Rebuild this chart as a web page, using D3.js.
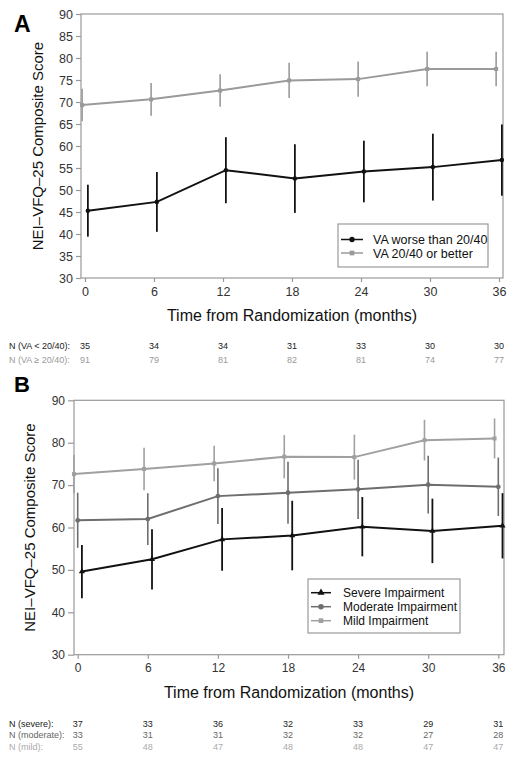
<!DOCTYPE html>
<html>
<head>
<meta charset="utf-8">
<script src="https://cdn.jsdelivr.net/npm/d3@7"></script>
<style>
  html, body { margin: 0; padding: 0; background: #fff; }
  svg { display: block; font-family: "Liberation Sans", Arial, Helvetica, sans-serif; }
</style>
</head>
<body>
<svg id="chart" width="516" height="760"></svg>
<script>
// ---------- DATA ----------
const months = [0, 6, 12, 18, 24, 30, 36];
const yTicksA = [30, 35, 40, 45, 50, 55, 60, 65, 70, 75, 80, 85, 90];
const yTicksB = [30, 40, 50, 60, 70, 80, 90];

// Panel A
const vaWorse    = [45.3, 47.3, 54.5, 52.6, 54.2, 55.2, 56.8];
const vaWorseErr = [5.9, 6.8, 7.5, 7.8, 7.0, 7.6, 8.1];
const vaBetter    = [69.3, 70.6, 72.6, 74.9, 75.2, 77.5, 77.5];
const vaBetterErr = [3.7, 3.7, 3.7, 4.0, 4.0, 3.9, 3.9];
const nVaWorse  = [35, 34, 34, 31, 33, 30, 30];
const nVaBetter = [91, 79, 81, 82, 81, 74, 77];

// Panel B
const severe      = [49.6, 52.5, 57.2, 58.1, 60.2, 59.2, 60.4];
const severeErr   = [6.3, 7.1, 7.4, 8.2, 7.0, 7.6, 7.7];
const moderate    = [61.7, 62.0, 67.4, 68.2, 69.0, 70.1, 69.6];
const moderateErr = [6.5, 6.1, 6.6, 7.3, 7.0, 6.8, 6.9];
const mild        = [72.6, 73.8, 75.1, 76.7, 76.6, 80.6, 81.0];
const mildErr     = [4.5, 5.0, 4.2, 5.1, 5.3, 4.8, 4.7];
const nSevere   = [37, 33, 36, 32, 33, 29, 31];
const nModerate = [33, 31, 31, 32, 32, 27, 28];
const nMild     = [55, 48, 47, 48, 48, 47, 47];

// ---------- DRAW ----------
const svg = d3.select("#chart");
const FRAME = "#9a9a9a";
const TXT = "#222";

function panel(cfg) {
  const g = svg.append("g");
  const x = d3.scaleLinear().domain([0, 36]).range(cfg.xRange);
  const y = d3.scaleLinear().domain([30, 90]).range(cfg.yRange);
  const [bx0, bx1] = cfg.box;
  const [by0, by1] = [y(90), y(30)];

  // frame
  g.append("rect").attr("x", bx0).attr("y", by0).attr("width", bx1 - bx0).attr("height", by1 - by0)
    .attr("fill", "none").attr("stroke", FRAME).attr("stroke-width", 1.2);

  // y axis
  const ya = g.append("g").attr("transform", `translate(${bx0},0)`)
    .call(d3.axisLeft(y).tickValues(cfg.yTicks).tickSize(cfg.yTickLen).tickPadding(3).tickFormat(d3.format("d")));
  ya.select(".domain").remove();
  ya.selectAll("line").attr("stroke", FRAME).attr("stroke-width", 1.2);
  ya.selectAll("text").attr("fill", "#333").style("font-size", cfg.tickFont + "px").style("font-family", "inherit");

  // x axis
  const xa = g.append("g").attr("transform", `translate(0,${by1})`)
    .call(d3.axisBottom(x).tickValues(months).tickSize(4).tickPadding(5).tickFormat(d3.format("d")));
  xa.select(".domain").remove();
  xa.selectAll("line").attr("stroke", FRAME).attr("stroke-width", 1.2);
  xa.selectAll("text").attr("fill", "#333").style("font-size", cfg.tickFont + "px").style("font-family", "inherit");

  // series
  cfg.series.forEach(s => {
    const pts = months.map((m, i) => ({ m: m + s.off, v: s.vals[i], e: s.err[i] }));
    g.append("g").selectAll("line").data(pts).join("line")
      .attr("x1", d => x(d.m)).attr("x2", d => x(d.m))
      .attr("y1", d => y(d.v - d.e)).attr("y2", d => y(d.v + d.e))
      .attr("stroke", s.color).attr("stroke-width", s.ew);
    g.append("path").datum(pts)
      .attr("d", d3.line().x(d => x(d.m)).y(d => y(d.v)))
      .attr("fill", "none").attr("stroke", s.color).attr("stroke-width", 2);
    const sym = d3.symbol().type(s.shape).size(s.msize);
    g.append("g").selectAll("path").data(pts).join("path")
      .attr("transform", d => `translate(${x(d.m)},${y(d.v)})`)
      .attr("d", sym).attr("fill", s.color);
  });

  // legend
  const L = cfg.legend;
  g.append("rect").attr("x", L.x).attr("y", L.y).attr("width", L.w).attr("height", L.h)
    .attr("fill", "#fff").attr("stroke", FRAME).attr("stroke-width", 1.2);
  L.items.forEach((it, i) => {
    const s = cfg.series[it.si];
    const yy = L.y0 + i * L.dy;
    g.append("line").attr("x1", L.lx0).attr("x2", L.lx1).attr("y1", yy).attr("y2", yy)
      .attr("stroke", s.color).attr("stroke-width", 1.5);
    g.append("path").attr("transform", `translate(${(L.lx0 + L.lx1) / 2},${yy})`)
      .attr("d", d3.symbol().type(s.shape).size(s.msize + 6)).attr("fill", s.color);
    g.append("text").attr("x", L.tx).attr("y", yy).attr("dy", "0.36em")
      .attr("fill", "#111").style("font-size", L.font + "px").text(it.label);
  });

  // axis titles
  g.append("text").attr("transform", `translate(${cfg.yTitleX},${(by0 + by1) / 2}) rotate(-90)`)
    .attr("text-anchor", "middle").attr("fill", "#111").style("font-size", "15px")
    .text("NEI\u2013VFQ\u201325 Composite Score");
  g.append("text").attr("x", (bx0 + bx1) / 2).attr("y", cfg.xTitleY)
    .attr("text-anchor", "middle").attr("fill", "#111").style("font-size", "16px")
    .text("Time from Randomization (months)");

  // panel letter
  g.append("text").attr("x", 14).attr("y", cfg.letterY).attr("fill", "#000")
    .style("font-size", cfg.letterFont + "px").style("font-weight", "bold").text(cfg.letter);

  // N table
  cfg.table.forEach((row, r) => {
    const yy = cfg.tableY0 + r * cfg.tableDy;
    g.append("text").attr("x", 9).attr("y", yy).attr("fill", row.color)
      .style("font-size", "9px").text(row.label);
    g.append("g").selectAll("text").data(row.vals).join("text")
      .attr("x", (d, i) => x(months[i])).attr("y", yy).attr("text-anchor", "middle")
      .attr("fill", row.color).style("font-size", "9px").text(d => d);
  });
}

panel({
  letter: "A", letterY: 32, letterFont: 23,
  xRange: [85, 499], yRange: [278, 14], box: [81, 503],
  yTicks: yTicksA, yTickLen: 5, tickFont: 12.5,
  yTitleX: 43, xTitleY: 321,
  series: [
    { vals: vaBetter, err: vaBetterErr, off: -0.25, color: "#9a9a9a", shape: d3.symbolSquare, msize: 16, ew: 1.6 },
    { vals: vaWorse, err: vaWorseErr, off: 0.25, color: "#111", shape: d3.symbolCircle, msize: 16, ew: 1.8 }
  ],
  legend: { x: 338, y: 224, w: 150, h: 43, y0: 239.5, dy: 13.5, lx0: 341, lx1: 363, tx: 373, font: 12.5,
    items: [{ si: 1, label: "VA worse than 20/40" }, { si: 0, label: "VA 20/40 or better" }] },
  tableY0: 349, tableDy: 14,
  table: [
    { label: "N (VA < 20/40):", vals: nVaWorse, color: "#222" },
    { label: "N (VA \u2265 20/40):", vals: nVaBetter, color: "#9a9a9a" }
  ]
});

panel({
  letter: "B", letterY: 392, letterFont: 22,
  xRange: [77.7, 498.3], yRange: [654.7, 400.3], box: [74, 504],
  yTicks: yTicksB, yTickLen: 6, tickFont: 12,
  yTitleX: 35, xTitleY: 698,
  series: [
    { vals: mild, err: mildErr, off: -0.32, color: "#a0a0a0", shape: d3.symbolSquare, msize: 16, ew: 1.6 },
    { vals: moderate, err: moderateErr, off: 0, color: "#6e6e6e", shape: d3.symbolCircle, msize: 18, ew: 1.6 },
    { vals: severe, err: severeErr, off: 0.36, color: "#111", shape: d3.symbolTriangle, msize: 16, ew: 1.8 }
  ],
  legend: { x: 308, y: 579, w: 152, h: 54, y0: 592.7, dy: 14, lx0: 311, lx1: 331, tx: 343, font: 12,
    items: [{ si: 2, label: "Severe Impairment" }, { si: 1, label: "Moderate Impairment" }, { si: 0, label: "Mild Impairment" }] },
  tableY0: 727, tableDy: 11.3,
  table: [
    { label: "N (severe):", vals: nSevere, color: "#222" },
    { label: "N (moderate):", vals: nModerate, color: "#666" },
    { label: "N (mild):", vals: nMild, color: "#aaa" }
  ]
});
</script>
</body>
</html>
